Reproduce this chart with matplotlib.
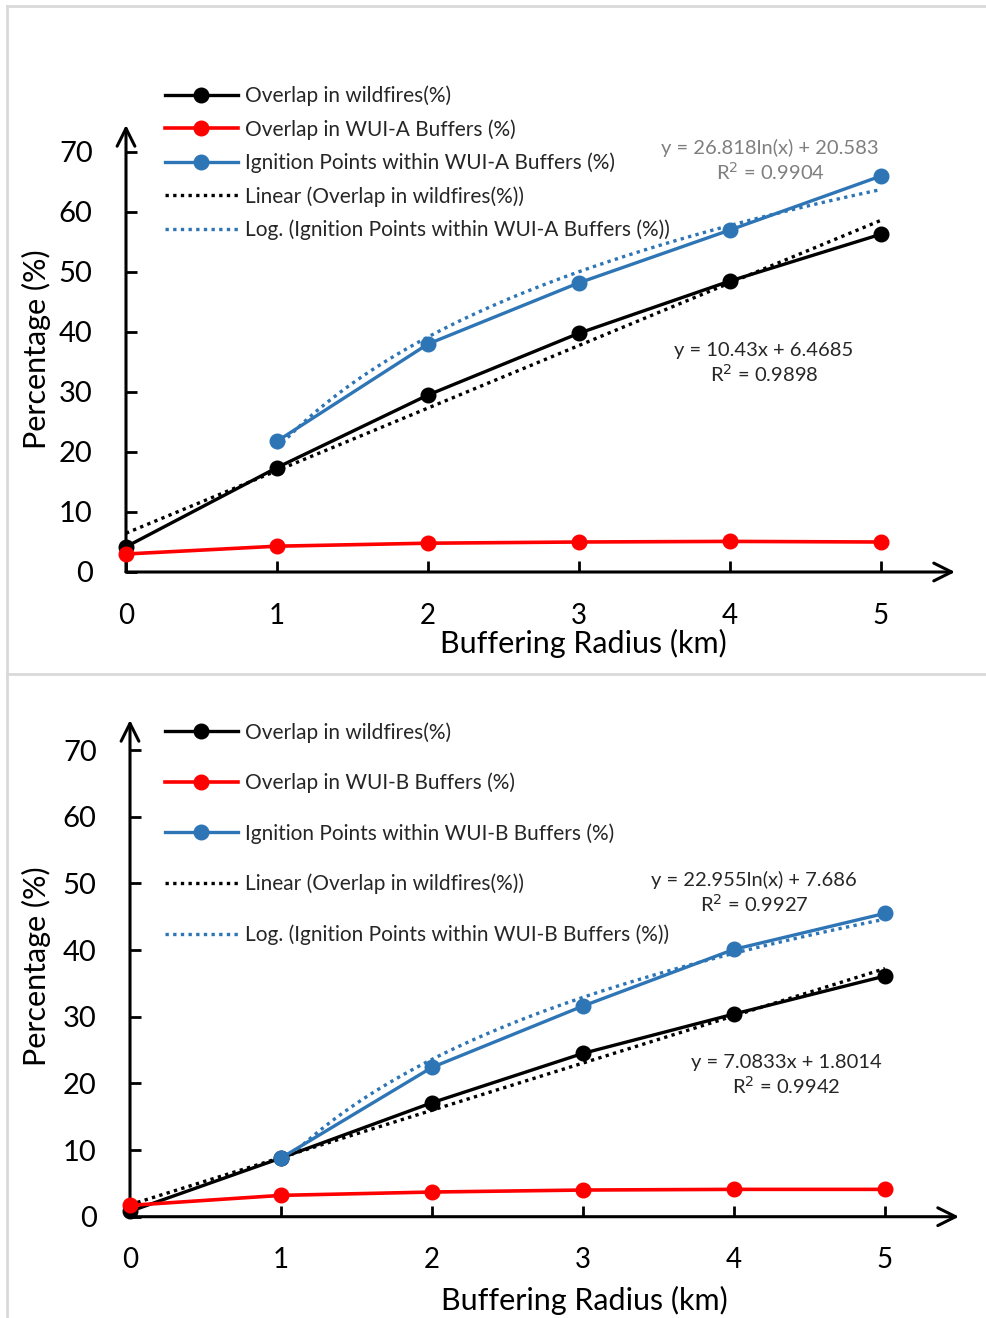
import numpy as np
import matplotlib.pyplot as plt
from matplotlib.lines import Line2D

plt.rcParams['font.family'] = ['Lato', 'DejaVu Sans']

radius = [0, 1, 2, 3, 4, 5]

# panel A
wild_a = [4.2, 17.4, 29.5, 39.8, 48.5, 56.3]
wui_a = [3.0, 4.3, 4.8, 5.0, 5.1, 5.0]
ign_a = [None, 21.8, 38.0, 48.2, 57.0, 66.0]
lin_a = (10.43, 6.4685, 0.9898)
log_a = (26.818, 20.583, 0.9904)

# panel B
wild_b = [0.8, 8.8, 17.1, 24.5, 30.4, 36.1]
wui_b = [1.7, 3.2, 3.7, 4.0, 4.1, 4.1]
ign_b = [None, 8.8, 22.4, 31.6, 40.1, 45.5]
lin_b = (7.0833, 1.8014, 0.9942)
log_b = (22.955, 7.686, 0.9927)

W, H = 987, 1318
BLUE = '#2E75B6'
TXT = '#262626'

fig = plt.figure(figsize=(W / 100, H / 100), dpi=100)


def px_axes(left, bottom_px, xscale, yscale):
    # bottom_px is the pixel row of the origin (from top)
    w = xscale * 5.5
    h = yscale * 75
    return fig.add_axes([left / W, (H - bottom_px) / H, w / W, h / H])


def panel(ax, tag, wild, wui, ign, lin, log, leg_y, leg_space, eq_pos, eq_col,
          xlab_pos, ylab_pos):
    ax.set_xlim(0, 5.5)
    ax.set_ylim(0, 75)
    for s in ax.spines.values():
        s.set_visible(False)

    ign_x = [r for r, v in zip(radius, ign) if v is not None]
    ign_y = [v for v in ign if v is not None]

    ax.plot(radius, wild, '-o', color='black', lw=2.4, ms=10.5, clip_on=False,
            zorder=4, label='Overlap in wildfires(%)')
    ax.plot(radius, wui, '-o', color='#FF0000', lw=2.6, ms=10.5, clip_on=False,
            zorder=5, label='Overlap in WUI-%s Buffers (%%)' % tag)
    ax.plot(ign_x, ign_y, '-o', color=BLUE, lw=2.4, ms=10.5, clip_on=False,
            zorder=4, label='Ignition Points within WUI-%s Buffers (%%)' % tag)

    xl = np.linspace(0, 5, 50)
    ax.plot(xl, lin[0] * xl + lin[1], color='black', lw=2.4,
            linestyle=(0, (1, 1.3)), zorder=3,
            label='Linear (Overlap in wildfires(%))')
    xg = np.linspace(1, 5, 80)
    ax.plot(xg, log[0] * np.log(xg) + log[1], color=BLUE, lw=2.4,
            linestyle=(0, (1, 1.3)), zorder=3,
            label='Log. (Ignition Points within WUI-%s Buffers (%%))' % tag)

    # axes drawn as arrows
    arrow = dict(arrowstyle='->', lw=2.2, color='black', mutation_scale=32,
                 shrinkA=0, shrinkB=0)
    ax.annotate('', xy=(5.49, 0), xytext=(0, 0), arrowprops=arrow,
                annotation_clip=False, zorder=2)
    ax.annotate('', xy=(0, 74.5), xytext=(0, 0), arrowprops=arrow,
                annotation_clip=False, zorder=2)

    ax.set_xticks(radius)
    ax.set_yticks(range(0, 71, 10))
    ax.tick_params(axis='both', direction='in', length=8, width=2,
                   color='black')
    ax.tick_params(axis='y', labelsize=21, pad=24)
    ax.tick_params(axis='x', labelsize=20, pad=22)
    ax.set_xlabel('Buffering Radius (km)', fontsize=22, va='center')
    ax.set_ylabel('Percentage (%)', fontsize=22, va='center')
    ax.xaxis.set_label_coords(*xlab_pos)
    ax.yaxis.set_label_coords(*ylab_pos)

    leg = ax.legend(loc='upper left', bbox_to_anchor=(165 / W, leg_y / H),
                    bbox_transform=fig.transFigure, frameon=False,
                    fontsize=15, handlelength=3.5, handletextpad=0.35,
                    labelspacing=leg_space, borderaxespad=0, borderpad=0)
    for t in leg.get_texts():
        t.set_color(TXT)

    (lx, ly), (gx, gy) = eq_pos
    ax.text(lx, ly, 'y = %gx + %g\nR$^2$ = %.4f' % lin, fontsize=14.5,
            color=TXT, ha='center', va='center', linespacing=1.2,
            transform=fig.transFigure)
    ax.text(gx, gy, 'y = %gln(x) + %g\nR$^2$ = %.4f' % log, fontsize=14.5,
            color=eq_col, ha='center', va='center', linespacing=1.2,
            transform=fig.transFigure)


ax1 = px_axes(126, 572, 151, 6.0)
panel(ax1, 'A', wild_a, wui_a, ign_a, lin_a, log_a,
      H - 85.5, 0.62,
      ((764 / W, (H - 363) / H), (770 / W, (H - 161) / H)), '#7F7F7F',
      (0.551, -0.158), (-0.108, 0.496))

ax2 = px_axes(130, 1216.7, 151, 6.667)
panel(ax2, 'B', wild_b, wui_b, ign_b, lin_b, log_b,
      H - 722, 1.44,
      ((786 / W, (H - 1075) / H), (754 / W, (H - 893) / H)), TXT,
      (0.547, -0.167), (-0.113, 0.501))

# light frame lines around the two panels
for xs, ys in [((7, 7), (6, H)), ((7, W), (6, 6)), ((7, W), (674, 674))]:
    fig.add_artist(Line2D([v / W for v in xs], [1 - v / H for v in ys],
                          color='#D9D9D9', lw=2, transform=fig.transFigure))

fig.savefig('out.png', dpi=100)
